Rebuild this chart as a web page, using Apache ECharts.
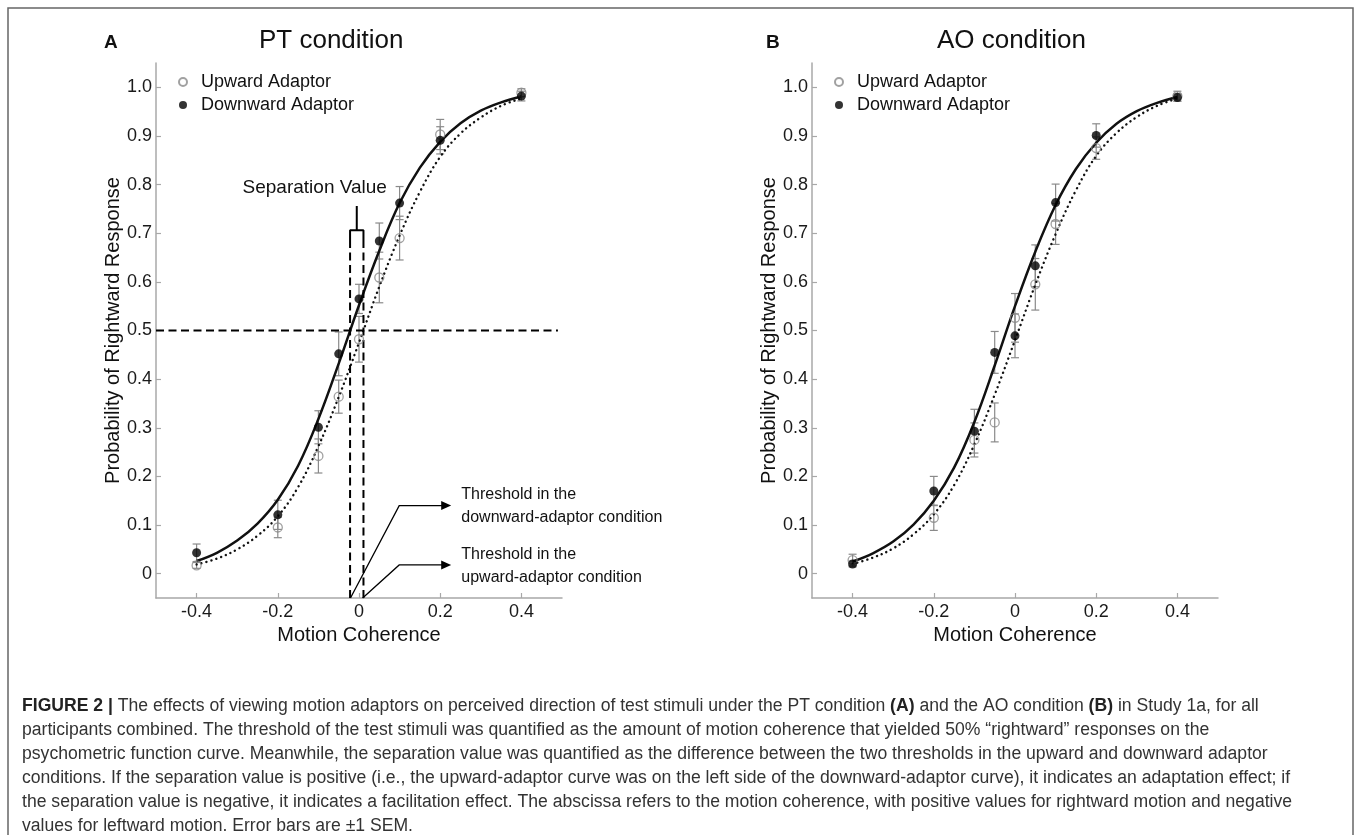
<!DOCTYPE html>
<html><head><meta charset="utf-8">
<script src="https://cdn.jsdelivr.net/npm/echarts@6/dist/echarts.min.js"></script>
<style>html,body{margin:0;padding:0;background:#fff}#c{width:1358px;height:835px}</style>
</head><body><div id="c"></div>
<script>
// ---------- data ----------
const coherence = [-0.4, -0.2, -0.1, -0.05, 0, 0.05, 0.1, 0.2, 0.4];

const ptDownward    = [0.043, 0.121, 0.301, 0.452, 0.565, 0.684, 0.762, 0.891, 0.982];
const ptDownwardSem = [0.018, 0.030, 0.034, 0.045, 0.030, 0.037, 0.034, 0.028, 0.010];
const ptUpward      = [0.017, 0.095, 0.242, 0.364, 0.482, 0.609, 0.690, 0.903, 0.989];
const ptUpwardSem   = [0.006, 0.021, 0.035, 0.034, 0.047, 0.052, 0.045, 0.031, 0.008];

const aoDownward    = [0.020, 0.170, 0.293, 0.455, 0.489, 0.633, 0.763, 0.901, 0.979];
const aoDownwardSem = [0.006, 0.030, 0.045, 0.043, 0.045, 0.043, 0.038, 0.024, 0.008];
const aoUpward      = [0.028, 0.115, 0.275, 0.311, 0.526, 0.595, 0.719, 0.875, 0.982];
const aoUpwardSem   = [0.012, 0.026, 0.035, 0.040, 0.050, 0.053, 0.042, 0.023, 0.010];

// fitted psychometric curves
const curveX = [-0.4, -0.35, -0.3, -0.25, -0.2, -0.15, -0.1, -0.05, 0, 0.05, 0.1, 0.15, 0.2, 0.25, 0.3, 0.35, 0.4];
const ptDownwardCurve = [0.026, 0.043, 0.068, 0.103, 0.152, 0.222, 0.318, 0.432, 0.552, 0.664, 0.762, 0.835, 0.888, 0.926, 0.952, 0.969, 0.981];
const ptUpwardCurve   = [0.019, 0.031, 0.050, 0.078, 0.118, 0.178, 0.262, 0.363, 0.475, 0.590, 0.695, 0.785, 0.857, 0.905, 0.938, 0.962, 0.977];
const aoDownwardCurve = [0.025, 0.042, 0.066, 0.101, 0.150, 0.218, 0.312, 0.428, 0.550, 0.662, 0.758, 0.832, 0.886, 0.925, 0.951, 0.968, 0.980];
const aoUpwardCurve   = [0.020, 0.033, 0.052, 0.081, 0.122, 0.182, 0.266, 0.368, 0.480, 0.594, 0.698, 0.788, 0.859, 0.906, 0.939, 0.962, 0.977];

const xTicks = [-0.4, -0.2, 0, 0.2, 0.4];
const yTicks = [0, 0.1, 0.2, 0.3, 0.4, 0.5, 0.6, 0.7, 0.8, 0.9, 1.0];

const seriesNames = ['Upward Adaptor', 'Downward Adaptor'];
const panelTitles = ['PT condition', 'AO condition'];
const panelLetters = ['A', 'B'];

// PT-panel annotations (data coordinates)
const ptThresholds = [-0.022, 0.011];          // downward, upward thresholds
const criterion = 0.5;
const criterionLineEnd = 0.49;
const bracketTop = 0.706;
const bracketSide = 0.68;
const bracketTail = 0.756;
const ptArrows = [
  [-0.021, -0.05, 0.099, 0.140, 0.227, 0.140],
  [ 0.009, -0.05, 0.099, 0.018, 0.227, 0.018]
];
const ptTexts = ['Separation Value', 'Threshold in the\ndownward-adaptor condition', 'Threshold in the\nupward-adaptor condition'];
const ptTextPos = [[-0.109, 0.794], [0.252, 0.138], [0.252, 0.016]];

const captionLines = [
  '{b|FIGURE 2 |} The effects of viewing motion adaptors on perceived direction of test stimuli under the PT condition {b|(A)} and the AO condition {b|(B)} in Study 1a, for all',
  'participants combined. The threshold of the test stimuli was quantified as the amount of motion coherence that yielded 50% \u201crightward\u201d responses on the',
  'psychometric function curve. Meanwhile, the separation value was quantified as the difference between the two thresholds in the upward and downward adaptor',
  'conditions. If the separation value is positive (i.e., the upward-adaptor curve was on the left side of the downward-adaptor curve), it indicates an adaptation effect; if',
  'the separation value is negative, it indicates a facilitation effect. The abscissa refers to the motion coherence, with positive values for rightward motion and negative',
  'values for leftward motion. Error bars are \u00b11 SEM.'
];

// ---------- chart ----------
const FONT = 'Liberation Sans, Arial, sans-serif';
const chart = echarts.init(document.getElementById('c'), null, {renderer: 'canvas'});

const gridLefts = [156, 812];
const AXIS_GRAY = '#a8a8a8';

function pairs(xs, ys) { return xs.map((x, i) => [x, ys[i]]); }

function errorBars(id, ys, sems, gi) {
  return {
    type: 'custom', id, xAxisIndex: gi, yAxisIndex: gi, silent: true, z: 2,
    data: coherence.map((x, i) => [x, ys[i] - sems[i], ys[i] + sems[i]]),
    encode: {x: 0, y: [1, 2]},
    renderItem: (params, api) => {
      const lo = api.coord([api.value(0), api.value(1)]);
      const hi = api.coord([api.value(0), api.value(2)]);
      const w = 4;
      const st = {stroke: '#8a8a8a', lineWidth: 1.2};
      return {type: 'group', children: [
        {type: 'line', shape: {x1: lo[0], y1: lo[1], x2: hi[0], y2: hi[1]}, style: st},
        {type: 'line', shape: {x1: lo[0] - w, y1: lo[1], x2: lo[0] + w, y2: lo[1]}, style: st},
        {type: 'line', shape: {x1: hi[0] - w, y1: hi[1], x2: hi[0] + w, y2: hi[1]}, style: st}
      ]};
    }
  };
}

function curve(id, ys, gi, dotted) {
  return {
    type: 'line', id, xAxisIndex: gi, yAxisIndex: gi, silent: true, z: 3,
    data: pairs(curveX, ys), smooth: 0.4, showSymbol: false, symbol: 'none',
    lineStyle: dotted ? {color: '#111', width: 2.4, type: [0.1, 5], cap: 'round'}
                      : {color: '#111', width: 2.5}
  };
}

function points(name, ys, gi, open) {
  return {
    type: 'scatter', name, xAxisIndex: gi, yAxisIndex: gi, z: 5, silent: true,
    data: pairs(coherence, ys), symbol: 'circle', symbolSize: 9,
    itemStyle: open ? {color: 'rgba(255,255,255,0)', borderColor: '#8a8a8a', borderWidth: 1.3}
                    : {color: '#000'}
  };
}

function polyline(id, pts, dashed) {
  return {
    type: 'line', id, xAxisIndex: 0, yAxisIndex: 0, silent: true, z: 4,
    data: pts, symbol: 'none', showSymbol: false, smooth: false,
    lineStyle: {color: '#000', width: 2, type: dashed ? [8, 4.5] : 'solid'}
  };
}

const series = [
  errorBars('ebPtU', ptUpward, ptUpwardSem, 0),
  errorBars('ebPtD', ptDownward, ptDownwardSem, 0),
  errorBars('ebAoU', aoUpward, aoUpwardSem, 1),
  errorBars('ebAoD', aoDownward, aoDownwardSem, 1),
  curve('cPtD', ptDownwardCurve, 0, false),
  curve('cPtU', ptUpwardCurve, 0, true),
  curve('cAoD', aoDownwardCurve, 1, false),
  curve('cAoU', aoUpwardCurve, 1, true),
  points(seriesNames[0], ptUpward, 0, true),
  points(seriesNames[1], ptDownward, 0, false),
  points(seriesNames[0], aoUpward, 1, true),
  points(seriesNames[1], aoDownward, 1, false),
  // annotations in panel A
  polyline('hCrit', [[-0.5, criterion], [criterionLineEnd, criterion]], true),
  polyline('vD', [[ptThresholds[0], -0.05], [ptThresholds[0], bracketSide]], true),
  polyline('vU', [[ptThresholds[1], -0.05], [ptThresholds[1], bracketSide]], true),
  polyline('bracket', [[ptThresholds[0], bracketSide], [ptThresholds[0], bracketTop],
                       [ptThresholds[1], bracketTop], [ptThresholds[1], bracketSide]], false),
  polyline('tail', [[(ptThresholds[0] + ptThresholds[1]) / 2, bracketTop],
                    [(ptThresholds[0] + ptThresholds[1]) / 2, bracketTail]], false),
  {
    type: 'custom', id: 'arrows', xAxisIndex: 0, yAxisIndex: 0, silent: true, z: 4,
    data: ptArrows, encode: {x: [0, 2, 4], y: [1, 3, 5]},
    renderItem: (params, api) => {
      const a = api.coord([api.value(0), api.value(1)]);
      const b = api.coord([api.value(2), api.value(3)]);
      const c = api.coord([api.value(4), api.value(5)]);
      return {type: 'group', children: [
        {type: 'polyline', shape: {points: [a, b, [c[0] - 8, c[1]]]}, style: {stroke: '#000', lineWidth: 1.3, fill: null}},
        {type: 'polygon', shape: {points: [[c[0], c[1]], [c[0] - 10, c[1] - 4.5], [c[0] - 10, c[1] + 4.5]]}, style: {fill: '#000'}}
      ]};
    }
  },
  {
    type: 'custom', id: 'texts', xAxisIndex: 0, yAxisIndex: 0, silent: true, z: 6,
    data: ptTextPos, encode: {x: 0, y: 1},
    renderItem: (params, api) => {
      const p = api.coord([api.value(0), api.value(1)]);
      const first = params.dataIndex === 0;
      return {type: 'text', x: p[0], y: p[1], style: {
        text: ptTexts[params.dataIndex], fill: '#111', fontFamily: FONT,
        fontSize: first ? 19 : 16, lineHeight: 23,
        align: first ? 'center' : 'left', verticalAlign: 'middle'
      }};
    }
  }
];

const option = {
  backgroundColor: '#fff',
  animation: false,
  textStyle: {fontFamily: FONT},
  title: [
    {text: panelLetters[0], left: 99, top: 28, textStyle: {fontSize: 19, fontWeight: 'bold', color: '#111', fontFamily: FONT}},
    {text: panelTitles[0], left: 254, top: 23, textStyle: {fontSize: 26, fontWeight: 'normal', color: '#111', fontFamily: FONT}},
    {text: panelLetters[1], left: 761, top: 28, textStyle: {fontSize: 19, fontWeight: 'bold', color: '#111', fontFamily: FONT}},
    {text: panelTitles[1], left: 932, top: 23, textStyle: {fontSize: 26, fontWeight: 'normal', color: '#111', fontFamily: FONT}}
  ],
  legend: gridLefts.map((gl, i) => ({
    data: seriesNames, orient: 'vertical', left: gl + 22, top: 73, padding: 0,
    itemWidth: 8, itemHeight: 8, itemGap: 5, selectedMode: false,
    textStyle: {fontSize: 18, lineHeight: 18, color: '#111', fontFamily: FONT, padding: [0, 0, 0, 9]}
  })),
  grid: gridLefts.map(gl => ({left: gl, top: 63, width: 406, height: 535, containLabel: false})),
  xAxis: [0, 1].map(i => ({
    type: 'value', gridIndex: i, min: -0.5, max: 0.5,
    name: 'Motion Coherence', nameLocation: 'middle', nameGap: 25,
    nameTextStyle: {fontSize: 20, color: '#111', fontFamily: FONT},
    axisLine: {show: true, onZero: false, lineStyle: {color: AXIS_GRAY, width: 1.5}},
    axisTick: {show: true, inside: true, length: 5, customValues: xTicks, lineStyle: {color: AXIS_GRAY, width: 1.2}},
    axisLabel: {customValues: xTicks, fontSize: 18, color: '#1a1a1a', margin: 5, fontFamily: FONT,
                formatter: v => (v === 0 ? '0' : String(v))},
    splitLine: {show: false}
  })),
  yAxis: [0, 1].map(i => ({
    type: 'value', gridIndex: i, min: -0.05, max: 1.05,
    name: 'Probability of Rightward Response', nameLocation: 'middle', nameGap: 33,
    nameTextStyle: {fontSize: 20, color: '#111', fontFamily: FONT},
    axisLine: {show: true, onZero: false, lineStyle: {color: AXIS_GRAY, width: 1.5}},
    axisTick: {show: true, inside: true, length: 5, customValues: yTicks, lineStyle: {color: AXIS_GRAY, width: 1.2}},
    axisLabel: {customValues: yTicks, fontSize: 18, color: '#1a1a1a', margin: 4, fontFamily: FONT,
                formatter: v => (v === 0 ? '0' : v.toFixed(1))},
    splitLine: {show: false}
  })),
  graphic: [
    {type: 'rect', silent: true, shape: {x: 8, y: 8, width: 1345, height: 840},
     style: {fill: 'none', stroke: '#666', lineWidth: 1.5}}
  ].concat(captionLines.map((t, i) => ({
    type: 'text', silent: true, x: 22, y: 706 + i * 24,
    style: {text: t, fontSize: 17.6, fontFamily: FONT, fill: '#333', verticalAlign: 'middle',
            rich: {b: {fontWeight: 'bold', fontSize: 17.6, fontFamily: FONT, fill: '#222'}}}
  }))),
  series
};
chart.setOption(option);
</script></body></html>
